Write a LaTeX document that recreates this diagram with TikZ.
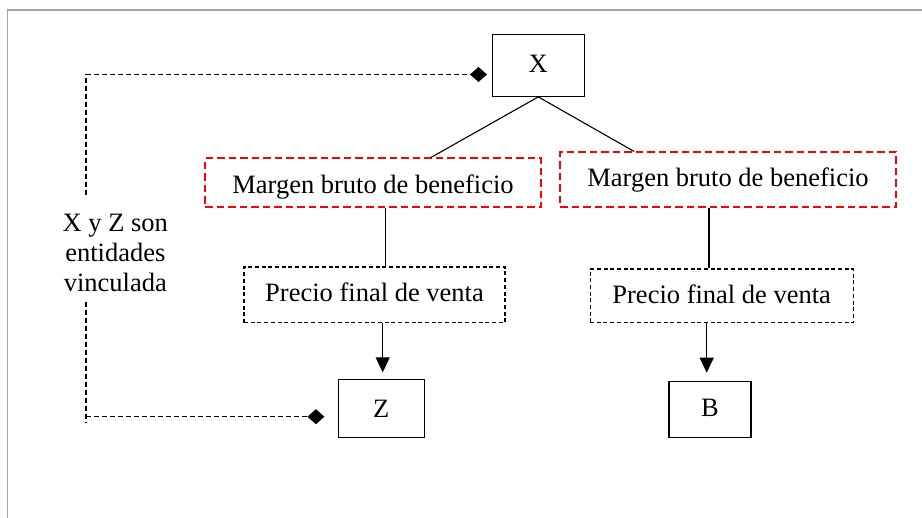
\documentclass[tikz,border=0pt]{standalone}
\usepackage{fontspec}
\setmainfont{Liberation Serif}
\usetikzlibrary{arrows.meta}
\definecolor{framegray}{RGB}{165,165,165}
\begin{document}
\begin{tikzpicture}[x=1pt,y=-1pt,
  every node/.style={inner sep=0pt, font=\fontsize{26.5}{30}\selectfont},
  hd/.style 2 args={text height=#1pt, text depth=#2pt},
  solidbox/.style={draw=black, line width=1.2pt, anchor=base},
  redbox/.style={draw=red, dash pattern=on 7.5pt off 4pt, line width=1.6pt, anchor=base, minimum width=336pt},
  pricebox/.style={draw=black, dash pattern=on 4pt off 2.7pt, line width=1.1pt, anchor=base},
  branch/.style={draw=black, line width=1.1pt},
  flow/.style={draw=black, line width=1.1pt, -{Triangle[length=15pt,width=14pt]}},
  link/.style={draw=black, line width=1.2pt, dash pattern=on 5pt off 3pt},
  linktip/.style={-{Diamond[length=17pt,width=15pt]}},
  frame/.style={draw=framegray, line width=1.3pt}]

\useasboundingbox (0,0) rectangle (922,518);
% page frame
\draw[frame] (7.3,518) -- (7.3,10) -- (922,10);

% companies
\node[solidbox, hd={38}{23.6}, minimum width=92pt] (x) at (538.3,72.7) {X};
\node[solidbox, hd={38.4}{20}, minimum width=86pt] (z) at (381.3,417.7) {Z};
\node[solidbox, hd={35}{21}, minimum width=82pt] (b) at (710,416.7) {B};

% margins and prices
\node[redbox, hd={35}{14}] (m1) at (373,193.3) {Margen bruto de beneficio};
\node[redbox, hd={34.4}{20.6}] (m2) at (728,186.7) {Margen bruto de beneficio};
\node[pricebox, hd={34.7}{21}, minimum width=261pt] (p1) at (374.5,301.7) {Precio final de venta};
\node[pricebox, hd={34.3}{19.4}, minimum width=263.3pt] (p2) at (721.7,303.3) {Precio final de venta};

% tree branches
\draw[branch] (x.south) -- ([xshift=226.7pt]m1.north west);
\draw[branch] (x.south) -- ([xshift=75pt]m2.north west);
\draw[branch] ([xshift=12.7pt]m1.south) -- ([xshift=12.7pt]m1.south |- p1.north);
\draw[branch] ([xshift=-19pt]m2.south) -- ([xshift=-19pt]m2.south |- p2.north);

% price flows
\coordinate (zin) at ([xshift=1.4pt]z.north);
\coordinate (bin) at ([xshift=-3.3pt]b.north);
\draw[flow, shorten >=6.3pt] (p1.south -| zin) -- (zin);
\draw[flow, shorten >=8.4pt] (p2.south -| bin) -- (bin);

% related-parties link
\coordinate (topcorner) at (86,74.5);
\coordinate (gaptop) at (86,195);
\coordinate (gapbot) at (86,302);
\coordinate (botcorner) at (86,416.7);
\coordinate (botend) at (86,423);
\draw[link, linktip, shorten >=4.7pt] (gaptop) -- (topcorner) -- (topcorner -| x.west);
\draw[link] (gapbot) -- (botend);
\draw[link, linktip, shorten >=13.3pt] (botcorner) -- (botcorner -| z.west);
\node[align=center] (note) at (115.3,253.1) {X y Z son\\entidades\\vinculada};
\end{tikzpicture}
\end{document}
